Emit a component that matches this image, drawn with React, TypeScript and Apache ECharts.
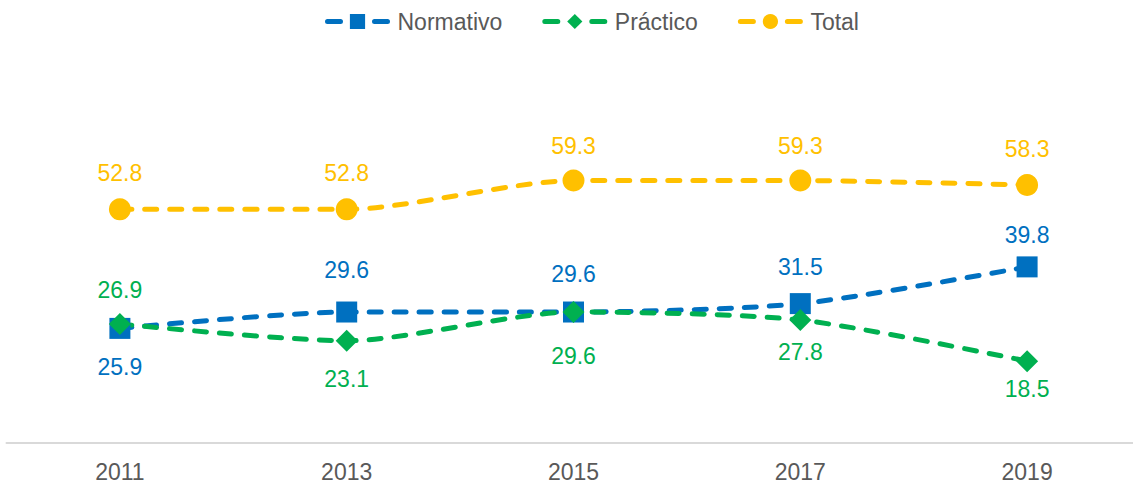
import React, { useEffect, useRef } from "react";
import * as echarts from "echarts";

const categories = ["2011", "2013", "2015", "2017", "2019"];
const normativo = [25.9, 29.6, 29.6, 31.5, 39.8];
const practico = [26.9, 23.1, 29.6, 27.8, 18.5];
const total = [52.8, 52.8, 59.3, 59.3, 58.3];

const normLabelPos = ["bottom", "top", "top", "top", "top"];
const normLabelDist = [16.5, 20, 16.5, 14.5, 9.5];
const pracLabelPos = ["top", "bottom", "bottom", "bottom", "bottom"];
const pracLabelDist = [11.5, 15.5, 21.5, 10, 5.5];
const totalLabelPos = ["top", "top", "top", "top", "top"];
const totalLabelDist = [13.5, 13.5, 12.5, 12.5, 13.5];

const FONT = "'Liberation Sans', Arial, sans-serif";

function buildData(values: number[], pos: string[], dist: number[]) {
  return values.map((v, i) => ({
    value: v,
    label: { position: pos[i], distance: dist[i] },
  }));
}

function makeSeries(
  name: string,
  values: number[],
  pos: string[],
  dist: number[],
  color: string,
  symbol: string,
  symbolSize: number
) {
  return {
    name,
    type: "line",
    data: buildData(values, pos, dist),
    smooth: 0.25,
    symbol,
    symbolSize,
    itemStyle: { color },
    lineStyle: { color, width: 5, type: [12, 13], cap: "round" },
    label: {
      show: true,
      color,
      fontSize: 23,
      fontFamily: FONT,
      formatter: (p: any) => p.value.toFixed(1),
    },
  };
}

export default function App() {
  const ref = useRef<HTMLDivElement>(null);
  useEffect(() => {
    if (!ref.current) return;
    const chart = echarts.init(ref.current, null, { renderer: "svg" });
    chart.setOption({
      animation: false,
      backgroundColor: "#ffffff",
      legend: {
        top: 5,
        left: 320,
        itemWidth: 60,
        itemHeight: 19,
        itemGap: 40,
        lineStyle: { width: 5, type: [13, 34], cap: "round" },
        textStyle: {
          color: "#595959",
          fontSize: 23,
          fontFamily: FONT,
          padding: [0, 0, 0, 5],
        },
        data: ["Normativo", "Práctico", "Total"],
      },
      grid: {
        left: 6.5,
        width: 1134,
        top: 89,
        bottom: 42,
        containLabel: false,
        outerBoundsMode: "none",
      },
      xAxis: {
        type: "category",
        data: categories,
        boundaryGap: true,
        axisLine: { lineStyle: { color: "#d9d9d9", width: 2 } },
        axisTick: { show: false },
        axisLabel: {
          color: "#595959",
          fontSize: 23,
          fontFamily: FONT,
          margin: 17.5,
        },
      },
      yAxis: {
        type: "value",
        min: 0,
        max: 80,
        show: false,
        splitLine: { show: false },
      },
      series: [
        makeSeries("Normativo", normativo, normLabelPos, normLabelDist, "#0070C0", "rect", 21),
        makeSeries("Práctico", practico, pracLabelPos, pracLabelDist, "#00B050", "diamond", 22),
        makeSeries("Total", total, totalLabelPos, totalLabelDist, "#FFC000", "circle", 22),
      ],
    });
    return () => chart.dispose();
  }, []);
  return (
    <div
      ref={ref}
      style={{ position: "fixed", left: 0, top: 0, width: 1133, height: 485 }}
    />
  );
}
